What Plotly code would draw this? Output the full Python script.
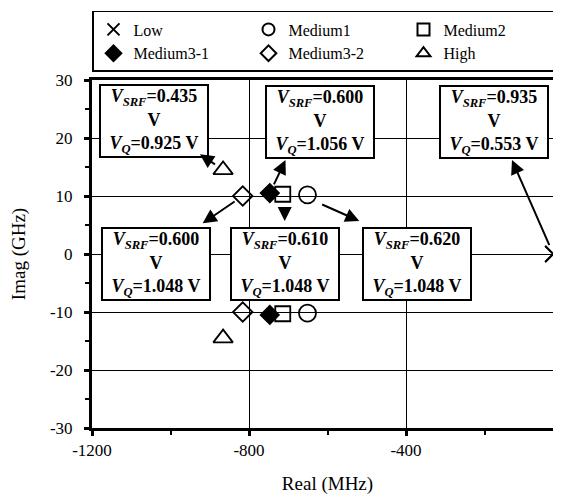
import plotly.graph_objects as go

# ---- data ----
series_names = ["Low", "Medium1", "Medium2", "Medium3-1", "Medium3-2", "High"]
low_real = [-25, -25]
low_imag = [0, 0]
med1_real = [-651, -651]
med1_imag = [10.2, -10.2]
med2_real = [-714, -714]
med2_imag = [10.3, -10.3]
med31_real = [-747, -747]
med31_imag = [10.5, -10.5]
med32_real = [-816, -816]
med32_imag = [10.0, -10.0]
high_real = [-866, -866]
high_imag = [14.5, -14.5]

# box labels: (VSRF, VQ)
box_vsrf = ["0.435", "0.600", "0.935", "0.600", "0.610", "0.620"]
box_vq = ["0.925", "1.056", "0.553", "1.048", "1.048", "1.048"]

xticks = [-1200, -800, -400, 0]
yticks = [-30, -20, -10, 0, 10, 20, 30]

FONT = "Liberation Serif"

fig = go.Figure()
markers = [
    (low_real, low_imag, "x-thin-open", 16),
    (med1_real, med1_imag, "circle-open", 17),
    (med2_real, med2_imag, "square-open", 15),
    (med31_real, med31_imag, "diamond", 14),
    (med32_real, med32_imag, "diamond-open", 15),
    (high_real, high_imag, "triangle-up-open", 17),
]
for name, (xs, ys, sym, sz) in zip(series_names, markers):
    fig.add_trace(go.Scatter(
        x=xs, y=ys, mode="markers", name=name,
        marker=dict(symbol=sym, size=sz, color="black", line=dict(color="black", width=1.8)),
    ))

# box positions in data coords (center x, center y)
box_pos = [(-1042, 22.9), (-618, 22.8), (-177, 22.8), (-1037, -1.8), (-708, -1.7), (-372, -1.7)]
for (bx, by), vs, vq in zip(box_pos, box_vsrf, box_vq):
    txt = ("<b><i>V</i><sub><i>SRF</i></sub>=" + vs + "<br>V<br><i>V</i><sub><i>Q</i></sub>="
           + vq + " V</b>")
    fig.add_annotation(
        x=bx, y=by, xref="x", yref="y", text=txt, showarrow=False,
        font=dict(family=FONT, size=18, color="black"),
        bgcolor="white", bordercolor="black", borderwidth=2, borderpad=1,
        width=104, height=68, align="center",
    )

# arrows: head at box edge, tail at marker
arrows = [
    ((-925, 17.2), (high_real[0], high_imag[0])),
    ((-707, 16.2), (med31_real[0], med31_imag[0])),
    ((-918, 5.3), (med32_real[0], med32_imag[0])),
    ((-709, 5.7), (med2_real[0] + 5, med2_imag[0] - 1.5)),
    ((-519, 5.7), (med1_real[0] + 15, med1_imag[0] - 1.0)),
    ((-130, 16.2), (low_real[0], low_imag[0])),
]
for (hx, hy), (tx, ty) in arrows:
    fig.add_annotation(
        x=hx, y=hy, ax=tx, ay=ty, xref="x", yref="y", axref="x", ayref="y",
        text="", showarrow=True, arrowhead=2, arrowsize=1.4, arrowwidth=2,
        arrowcolor="black", standoff=0, startstandoff=8,
    )

fig.update_layout(
    width=561, height=497,
    margin=dict(l=84, r=6, t=72, b=77),
    paper_bgcolor="white", plot_bgcolor="white",
    font=dict(family=FONT, size=17, color="black"),
    showlegend=True,
    legend=dict(
        orientation="h", x=0, xanchor="left", y=0.994, yanchor="top",
        xref="paper", yref="container",
        entrywidth=110, entrywidthmode="pixels",
        bordercolor="black", borderwidth=1.5, bgcolor="white",
        font=dict(family=FONT, size=16), itemwidth=30, itemsizing="constant",
        tracegroupgap=0,
    ),
    xaxis=dict(
        range=[-1200, 0], tickvals=xticks, ticktext=[str(v) for v in xticks],
        showgrid=True, gridcolor="black", gridwidth=1,
        showline=True, linecolor="black", linewidth=3, mirror=True,
        ticks="outside", ticklen=5, tickwidth=3, tickcolor="black",
        minor=dict(dtick=200, ticks="outside", ticklen=4, tickwidth=2, tickcolor="black", showgrid=False),
        zeroline=False, automargin=False,
        title=dict(text="Real (MHz)", font=dict(family=FONT, size=19), standoff=18),
        tickfont=dict(family=FONT, size=17),
    ),
    yaxis=dict(
        range=[-30, 30], tickvals=yticks, ticktext=[str(v) for v in yticks],
        showgrid=True, gridcolor="black", gridwidth=1,
        showline=True, linecolor="black", linewidth=3, mirror=True,
        ticks="outside", ticklen=5, tickwidth=3, tickcolor="black",
        ticklabelstandoff=8,
        minor=dict(dtick=5, ticks="outside", ticklen=4, tickwidth=2, tickcolor="black", showgrid=False),
        zeroline=False, automargin=False,
        title=dict(text="Imag (GHz)", font=dict(family=FONT, size=19), standoff=33),
        tickfont=dict(family=FONT, size=17),
    ),
)

fig.write_html("out.html")
